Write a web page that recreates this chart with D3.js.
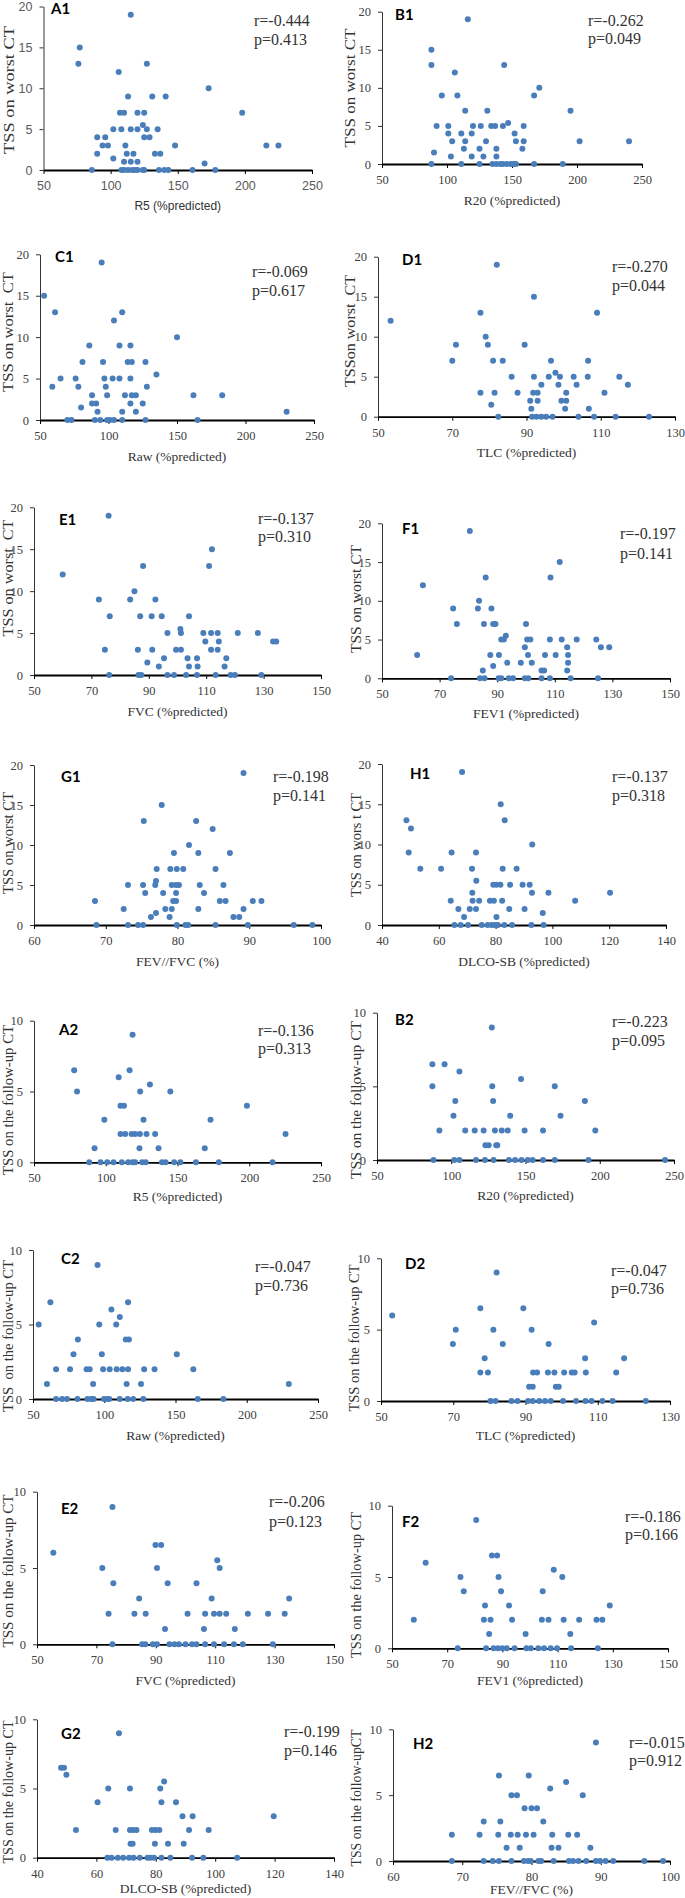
<!DOCTYPE html>
<html><head><meta charset="utf-8">
<script src="https://cdn.jsdelivr.net/npm/d3@7"></script>
<style>body{margin:0;background:#fff} svg{display:block}</style>
</head><body>
<script>
// ---------- DATA ----------
const panelIds = ["A1","B1","C1","D1","E1","F1","G1","H1","A2","B2","C2","D2","E2","F2","G2","H2"];
const xTitles = ["R5 (%predicted)","R20 (%predicted)","Raw (%predicted)","TLC (%predicted)","FVC (%predicted)","FEV1 (%predicted)","FEV//FVC (%)","DLCO-SB (%predicted)",
                 "R5 (%predicted)","R20 (%predicted)","Raw (%predicted)","TLC (%predicted)","FVC (%predicted)","FEV1 (%predicted)","DLCO-SB (%predicted)","FEV//FVC (%)"];
const yTitles = ["TSS on worst CT","TSS on worst CT","TSS on worst  CT","TSSon worst  CT","TSS on worst  CT","TSS on worst CT","TSS on worst CT","TSS on wors t CT",
                 "TSS on the follow-up CT","TSS on the follow-up CT","TSS  on the follow-up CT","TSS on the follow-up CT","TSS on the follow-up CT","TSS on the follow-up CT","TSS on the follow-up CT","TSS on the follow-upCT"];
const rTexts = ["r=-0.444","r=-0.262","r=-0.069","r=-0.270","r=-0.137","r=-0.197","r=-0.198","r=-0.137",
                "r=-0.136","r=-0.223","r=-0.047","r=-0.047","r=-0.206","r=-0.186","r=-0.199","r=-0.015"];
const pTexts = ["p=0.413","p=0.049","p=0.617","p=0.044","p=0.310","p=0.141","p=0.141","p=0.318",
                "p=0.313","p=0.095","p=0.736","p=0.736","p=0.123","p=0.166","p=0.146","p=0.912"];

const xTicksR = [50,100,150,200,250];
const xTicksTLC = [50,70,90,110,130];
const xTicksFV = [50,70,90,110,130,150];
const xTicksRatio = [60,70,80,90,100];
const xTicksDLCO = [40,60,80,100,120,140];
const yTicksWorst = [0,5,10,15,20];
const yTicksFollow = [0,5,10];

const a1 = [[115,19],[77,15],[76,13],[127,13],[106,12],[173,10],[113,9],[131,9],[141,9],[107,7],[110,7],[120,7],[125,7],[198,7],[102,5],[108,5],[115,5],[120,5],[124,5.5],[127,5],[135,5],[90,4],[96,4],[125,4],[129,4],[94,3],[98,3],[111,3],[148,3],[216,3],[225,3],[90,2],[112,2],[117,2],[133,2],[137,2],[102,1.4],[110,1],[115,1],[120,1],[170,0.8],[86,0],[108,0],[110,0],[113,0],[116,0],[118,0],[120,0],[124,0],[125,0],[136,0],[140,0],[143,0],[161,0],[178,0]];
const b1 = [[88,15],[88,13],[106,12],[96,9],[108,9],[116,19],[144,13],[167,9],[171,10],[195,7],[114,7],[131,7],[92,5],[101,5],[120,5],[126,5],[134,5],[137,5],[143,5],[147,5.4],[159,5],[101,4],[111,4],[119,4],[152,4],[104,3],[114,3],[130,3],[153,3],[159,3],[202,3],[240,3],[90,1.5],[113,2],[125,2],[138,2],[158,2],[103,1],[119,1],[128,1],[138,1],[88,0],[111,0],[125,0],[135,0],[138,0],[141,0],[143,0],[146,0],[149,0],[151,0],[153,0],[167,0],[189,0]];
const c1 = [[95,19],[53,15],[61,13],[110,13],[104,12],[150,10],[86,9],[108,9],[116,9],[81,7],[96,7],[114,7],[117,7],[127,7],[135,5.5],[65,5],[76,5],[97,5],[103,5],[108,5],[116,5],[59,4],[78,4],[98,4],[128,4],[88,3],[99,3],[112,3],[117,3],[120,3],[162,3],[183,3],[88,2],[91,2],[116,2],[125,2],[80,1.5],[92,1],[110,1],[120,1],[230,1],[70,0],[73,0],[90,0],[94,0],[99,0],[101,0],[104,0],[110,0],[127,0],[165,0]];
const d1 = [[82,19],[92,15],[53.4,12],[77.6,13],[109,13],[79,10],[71,9],[79.6,9],[89.5,9],[70,7],[81,7],[83.6,7],[96.6,7],[106.6,7],[97.8,5.5],[86,5],[92,5],[96,5],[99,5],[102.7,5],[106.5,5],[115,5],[94,4],[98.6,4],[103.5,4],[117.3,4],[77.6,3],[81.4,3],[87.6,3],[91.8,3],[93,3],[100.7,3],[111,3],[91,2],[93,2],[99.4,2],[100.7,2],[80.5,1.5],[91.3,1],[100.4,1],[106.8,1],[82.4,0],[91.5,0],[92.7,0],[94,0],[95.3,0],[97,0],[104,0],[108.2,0],[114,0],[123,0]];
const e1 = [[76,19],[112,15],[88,13],[111,13],[60,12],[85,10],[72.6,9],[83.5,9],[92.3,9],[76.4,7],[87,7],[91,7],[94.5,7],[104,7],[101,5.5],[96.5,5],[101.2,5],[109,5],[111.7,5],[114,5],[121,5],[128,5],[109.7,4],[114.4,4],[133.3,4],[134.4,4],[74.7,3],[86.2,3],[91.2,3],[99.5,3],[101.2,3],[111.7,3],[114,3],[95.3,2],[103.5,2],[106.8,2],[117,2],[89.5,1.5],[93.5,1],[104,1],[107,1],[116.4,1],[76.2,0],[86.4,0],[87.4,0],[96.5,0],[98.8,0],[103,0],[106.8,0],[113.3,0],[118.5,0],[120,0],[129.2,0]];
const f1 = [[80.5,19],[111.7,15],[86,13],[108.5,13],[64.2,12],[83.7,10],[74.7,9],[83.3,9],[88,9],[76,7],[85.4,7],[88.6,7],[89.4,7],[100,7],[93,5.5],[91.4,5],[92.3,5],[100.4,5],[101.5,5],[108.3,5],[112.4,5],[117.6,5],[124.4,5],[99.6,4],[114.3,4],[126,4],[128.9,4],[62.2,3],[87.6,3],[90.6,3],[100.7,3],[106.6,3],[110.3,3],[114.6,3],[93.5,2],[98.2,2],[102,2],[114.6,2],[88.6,1.6],[85,1],[105.4,1],[106.3,1],[114.3,1],[74,0],[84,0],[85.6,0],[90.5,0],[91.4,0],[94,0],[95.5,0],[99.6,0],[100.8,0],[105.4,0],[108.3,0],[115.5,0],[125,0]];
const g1 = [[89.2,19],[77.8,15],[75.3,13],[82.6,13],[84.9,12],[81.6,10],[79.5,9],[82.9,9],[87.3,9],[77.1,7],[79,7],[79.9,7],[80.8,7],[85.3,7],[77,5.5],[73.1,5],[75.2,5],[76.9,5],[79.2,5],[79.8,5],[80.2,5],[83.1,5],[86.4,5],[75.5,4],[78,4],[79.8,4],[83.7,4],[68.5,3],[79.4,3],[79.8,3],[85.9,3],[86.7,3],[90.5,3],[91.7,3],[72.5,2],[78.3,2],[79.2,2],[82.9,2],[89.2,2],[77,1.5],[76.3,1],[78.9,1],[87.8,1],[88.6,1],[68.7,0],[73.1,0],[74.5,0],[75.2,0],[79.9,0],[81.1,0],[81.5,0],[85.3,0],[89.8,0],[96.2,0],[98.8,0]];
const h1 = [[68.2,19],[81.8,15],[48.6,13],[83.2,13],[50.2,12],[92.9,10],[49.4,9],[64.5,9],[73.1,9],[53.5,7],[60.8,7],[71.7,7],[82.5,7],[87.4,7],[73.2,5.5],[79.2,5],[80.3,5],[81.7,5],[85.1,5],[89.5,5],[92,5],[71.8,4],[92.8,4],[98.6,4],[120.3,4],[64.2,3],[71.9,3],[74.2,3],[78,3],[79.4,3],[82.3,3],[108,3],[66.9,2],[70.9,2],[73.1,2],[84.8,2],[90.2,2],[96.6,1.5],[68.9,1],[80.3,1],[65.5,0],[67.7,0],[70.3,0],[75.1,0],[77.2,0],[78.6,0],[79.7,0],[80.8,0],[83.1,0],[85.8,0],[92.6,0],[96.9,0]];
const a2 = [[118.7,9],[78,6.5],[116.6,6.5],[109,6],[130.8,5.5],[80,5],[124,5],[145,5],[110.3,4],[112.7,4],[198.4,4],[99,3],[126.3,3],[173,3],[110.3,2],[113.6,2],[118,2],[120.5,2],[123.8,2],[128.4,2],[134.4,2],[225.3,2],[92.2,1],[123.5,1],[136.8,1],[169,1],[88.5,0],[96.4,0],[101,0],[105.4,0],[111.2,0],[115.7,0],[118.7,0],[120.5,0],[125.4,0],[127.8,0],[139.2,0],[141.7,0],[147.7,0],[152,0],[162.8,0],[178.8,0],[216.2,0]];
const b2 = [[127.3,9],[87.3,6.5],[95.5,6.5],[105.5,6],[147,5.5],[87.3,5],[127.6,5],[169.7,5],[102.7,4],[128.2,4],[190,4],[101.5,3],[139.7,3],[173.6,3],[92,2],[109.4,2],[115.8,2],[121.8,2],[129.4,2],[134,2],[138,2],[149.4,2],[161.8,2],[197,2],[123,1],[125.2,1],[130.3,1],[131,1],[88,0],[102,0],[105.5,0],[116.7,0],[122.7,0],[128.5,0],[138.8,0],[143,0],[147.3,0],[151.5,0],[154.8,0],[161.8,0],[169.7,0],[192.4,0],[244,0]];
const c2 = [[95.3,9],[62.2,6.5],[116.7,6.5],[105,6],[110.9,5.5],[54,5],[96.5,5],[108.4,5],[81.5,4],[115.1,4],[117.3,4],[78.4,3],[98.3,3],[150.9,3],[66.2,2],[76,2],[87.6,2],[89.8,2],[99.2,2],[103.8,2],[108.7,2],[112.7,2],[116.7,2],[128,2],[135.3,2],[162.5,2],[59.8,1],[92.2,1],[115.7,1],[125.8,1],[229.5,1],[66.2,0],[70.5,0],[73.9,0],[81.2,0],[88.2,0],[90.7,0],[92.5,0],[99.8,0],[102,0],[103.5,0],[110.9,0],[116.4,0],[120.3,0],[127.4,0],[165.6,0],[183.6,0]];
const d2 = [[82,9],[53.1,6],[77.5,6.5],[89.4,6.5],[109,5.5],[70.7,5],[81.1,5],[91.7,5],[69.9,4],[83.7,4],[96.4,4],[78.7,3],[106.5,3],[117.3,3],[77.5,2],[79.6,2],[92.1,2],[93.2,2],[96.2,2],[98,2],[100.7,2],[102.8,2],[103.6,2],[106.7,2],[115.1,2],[91,1],[92,1],[98.4,1],[99.2,1],[80.3,0],[81.7,0],[86.1,0],[87.8,0],[90.7,0],[92,0],[93.8,0],[95.4,0],[97,0],[100.4,0],[104,0],[106.6,0],[108.3,0],[111.3,0],[114.1,0],[123.3,0]];
const e2 = [[75.4,9],[55.5,6],[89.9,6.5],[91.8,6.5],[72,5],[90.4,5],[111.5,5],[110.7,5.5],[75.7,4],[94,4],[103.7,4],[84.4,3],[108.8,3],[134.9,3],[74.1,2],[82.8,2],[86.6,2],[100.7,2],[106.6,2],[109.6,2],[111.5,2],[113.7,2],[121,2],[127.8,2],[133.4,2],[93.1,1],[106.2,1],[116.6,1],[75.4,0],[85.4,0],[86.5,0],[89,0],[90.4,0],[94.6,0],[96.3,0],[97.8,0],[100,0],[102.2,0],[103.7,0],[106.6,0],[109.6,0],[113,0],[116.3,0],[119.3,0],[129.4,0]];
const f2 = [[80.5,9],[62.2,6],[86.2,6.5],[88.1,6.5],[74.8,5],[88.6,5],[108.6,5.5],[111.7,5],[76,4],[89.5,4],[104.6,4],[83.7,3],[92.4,3],[128.9,3],[57.9,2],[83.3,2],[85.7,2],[93.5,2],[104.3,2],[106.7,2],[112.2,2],[117.8,2],[124.1,2],[126.2,2],[85.2,1],[98.4,1],[114.6,1],[73.8,0],[84.1,0],[86.8,0],[88.4,0],[90,0],[91.6,0],[94.4,0],[98.7,0],[100.3,0],[103,0],[105.1,0],[107.5,0],[109.8,0],[114.9,0],[124.6,0]];
const g2 = [[67.6,9],[48.1,6.5],[49.1,6.5],[49.9,6],[82.8,5.5],[64,5],[71.3,5],[81.5,5],[60.4,4],[81.9,4],[86.8,4],[89,3],[92.4,3],[119.7,3],[53.1,2],[66.5,2],[71.3,2],[72.4,2],[73.5,2],[78.7,2],[79.9,2],[81.2,2],[91.2,2],[97.8,2],[71.5,1],[72.2,1],[79.7,1],[84.1,1],[89.4,1],[63.7,0],[65.1,0],[67.2,0],[69,0],[71,0],[72.5,0],[74.6,0],[77.2,0],[78.2,0],[79.4,0],[81.9,0],[84.9,0],[92.2,0],[96,0],[107.4,0]];
const h2 = [[89.3,9],[75.3,6.5],[79.6,6.5],[85,6],[82.7,5.5],[77.1,5],[77.9,5],[87.4,5],[79,4],[80,4],[80.8,4],[73.1,3],[75.5,3],[81.7,3],[68.5,2],[72.5,2],[75.2,2],[77,2],[78,2],[79.2,2],[80.3,2],[83,2],[85.3,2],[86.6,2],[76.4,1],[78.3,1],[82.9,1],[83.9,1],[88.5,1],[68.5,0],[73.1,0],[74.4,0],[75.3,0],[77.1,0],[78.9,0],[79.5,0],[79.9,0],[81,0],[81.4,0],[83.2,0],[85.4,0],[86,0],[86.8,0],[87.9,0],[89.3,0],[89.9,0],[90.7,0],[91.8,0],[96.3,0],[99,0]];

const panelData = [a1,b1,c1,d1,e1,f1,g1,h1,a2,b2,c2,d2,e2,f2,g2,h2];
const panelXTicks = [xTicksR,xTicksR,xTicksR,xTicksTLC,xTicksFV,xTicksFV,xTicksRatio,xTicksDLCO,
                     xTicksR,xTicksR,xTicksR,xTicksTLC,xTicksFV,xTicksFV,xTicksDLCO,xTicksRatio];
const panelYTicks = [yTicksWorst,yTicksWorst,yTicksWorst,yTicksWorst,yTicksWorst,yTicksWorst,yTicksWorst,yTicksWorst,
                     yTicksFollow,yTicksFollow,yTicksFollow,yTicksFollow,yTicksFollow,yTicksFollow,yTicksFollow,yTicksFollow];

// ---------- LAYOUT (pixel geometry, kept apart from data) ----------
// x0,x1: plot left/right; yT,yB: top/bottom; xt: x-title offset; lab:[x,cy]; r:[left,rcy,pcy]; yt:[cx,cy,len]
const layout = [
 {x0:43.5,x1:312,yT:6.5,yB:170, xt:36, lab:[51,9], r:[254,20,39], yt:[9,90,128]},
 {x0:382,x1:642,yT:11.7,yB:164, xt:36, lab:[395,15], r:[588,20.7,38.5], yt:[350,88,119]},
 {x0:40,x1:314,yT:254.3,yB:420, xt:36, lab:[55,257], r:[252,271.7,290], yt:[8,332,120]},
 {x0:378,x1:675,yT:256.7,yB:416.7, xt:36, lab:[402,260], r:[612,266.7,285], yt:[350,331,112]},
 {x0:34,x1:321,yT:507.3,yB:675, xt:36, lab:[59,520], r:[258,518.3,536.7], yt:[8,578,117]},
 {x0:382,x1:670,yT:523.3,yB:678.3, xt:35, lab:[402,528.3], r:[620,533.3,553], yt:[356,599,108]},
 {x0:34,x1:321,yT:765,yB:925, xt:36, lab:[61,776.7], r:[273,776.7,795], yt:[8,843,102]},
 {x0:382,x1:666,yT:764,yB:925, xt:36, lab:[410,773.3], r:[612,776.7,795], yt:[356,845,104]},
 {x0:34,x1:321,yT:1020.7,yB:1162.3, xt:34, lab:[59,1030], r:[258,1030,1048.3], yt:[8,1100,150]},
 {x0:377,x1:674,yT:1012.7,yB:1160, xt:35, lab:[395,1020], r:[612,1021.7,1040], yt:[356,1100,158]},
 {x0:33,x1:318,yT:1250,yB:1399, xt:36, lab:[61,1258.3], r:[255,1266.7,1285], yt:[8,1336,152]},
 {x0:381,x1:670,yT:1258.3,yB:1401, xt:34, lab:[405,1263.3], r:[611,1270,1288.3], yt:[354,1338,147]},
 {x0:37,x1:334,yT:1491.7,yB:1644.3, xt:36, lab:[61,1508.3], r:[269,1501.7,1521.7], yt:[8,1571,153]},
 {x0:392,x1:668,yT:1505.7,yB:1648.3, xt:32, lab:[402,1521.7], r:[625,1516.7,1534.3], yt:[356,1585,146]},
 {x0:37,x1:334,yT:1719.3,yB:1857.7, xt:31, lab:[61,1733.3], r:[284,1731.7,1750], yt:[8,1792,143]},
 {x0:393,x1:670,yT:1729.3,yB:1861, xt:28, lab:[413,1743.3], r:[629,1742.3,1760.7], yt:[356,1798,137]}
];

// ---------- DRAW ----------
const W = 685, H = 1898;
const svg = d3.select("body").append("svg").attr("width", W).attr("height", H);

const serif = "'Liberation Serif','Times New Roman',serif";
const sans = "'Liberation Sans',Arial,sans-serif";
const dotColor = "#4a7ebb";

panelIds.forEach((id, i) => {
  const L = layout[i];
  const data = panelData[i];
  const xt = panelXTicks[i], yt = panelYTicks[i];
  const useSans = (i === 0);
  const tickFont = useSans ? sans : serif;
  const tickColor = useSans ? "#595959" : "#404040";

  const x = d3.scaleLinear().domain([xt[0], xt[xt.length - 1]]).range([L.x0, L.x1]);
  const y = d3.scaleLinear().domain([yt[0], yt[yt.length - 1]]).range([L.yB, L.yT]);
  const g = svg.append("g");

  const ya = g.append("g").attr("transform", `translate(${L.x0},0)`)
    .call(d3.axisLeft(y).tickValues(yt).tickSize(4).tickSizeOuter(0).tickPadding(7));
  ya.select(".domain").attr("stroke", "#333").attr("stroke-width", 1);
  ya.selectAll(".tick line").attr("stroke", "#333");
  ya.selectAll(".tick text").attr("font-family", tickFont).attr("font-size", 12.5).attr("fill", tickColor);

  const xa = g.append("g").attr("transform", `translate(0,${L.yB})`)
    .call(d3.axisBottom(x).tickValues(xt).tickSize(4).tickSizeOuter(0).tickPadding(7));
  xa.select(".domain").attr("stroke", "#000").attr("stroke-width", 1.8);
  xa.selectAll(".tick line").attr("stroke", "#000");
  xa.selectAll(".tick text").attr("font-family", tickFont).attr("font-size", 12.5).attr("fill", tickColor);

  g.append("g").selectAll("circle").data(data).join("circle")
    .attr("cx", d => x(d[0])).attr("cy", d => y(d[1])).attr("r", 3)
    .attr("fill", dotColor);

  g.append("text").attr("x", (L.x0 + L.x1) / 2).attr("y", L.yB + L.xt).attr("dy", "0.35em")
    .attr("text-anchor", "middle").attr("font-family", useSans ? sans : serif)
    .attr("font-size", useSans ? 12 : 13.5).attr("fill", "#333").text(xTitles[i]);

  g.append("text").attr("transform", `translate(${L.yt[0]},${L.yt[1]}) rotate(-90)`)
    .attr("dy", "0.35em").attr("text-anchor", "middle").attr("font-family", serif)
    .attr("font-size", 15).attr("fill", "#333").style("white-space", "pre")
    .attr("textLength", L.yt[2]).attr("lengthAdjust", "spacingAndGlyphs")
    .text(yTitles[i]);

  g.append("text").attr("x", L.lab[0]).attr("y", L.lab[1]).attr("dy", "0.36em")
    .attr("font-family", "Lato,'Open Sans',sans-serif").attr("font-weight", "bold")
    .attr("font-size", 15).attr("fill", "#000").text(id);

  g.append("text").attr("x", L.r[0]).attr("y", L.r[1]).attr("dy", "0.35em")
    .attr("font-family", serif).attr("font-size", 16).attr("fill", "#333").text(rTexts[i]);
  g.append("text").attr("x", L.r[0]).attr("y", L.r[2]).attr("dy", "0.35em")
    .attr("font-family", serif).attr("font-size", 16).attr("fill", "#333").text(pTexts[i]);
});
</script>
</body></html>
